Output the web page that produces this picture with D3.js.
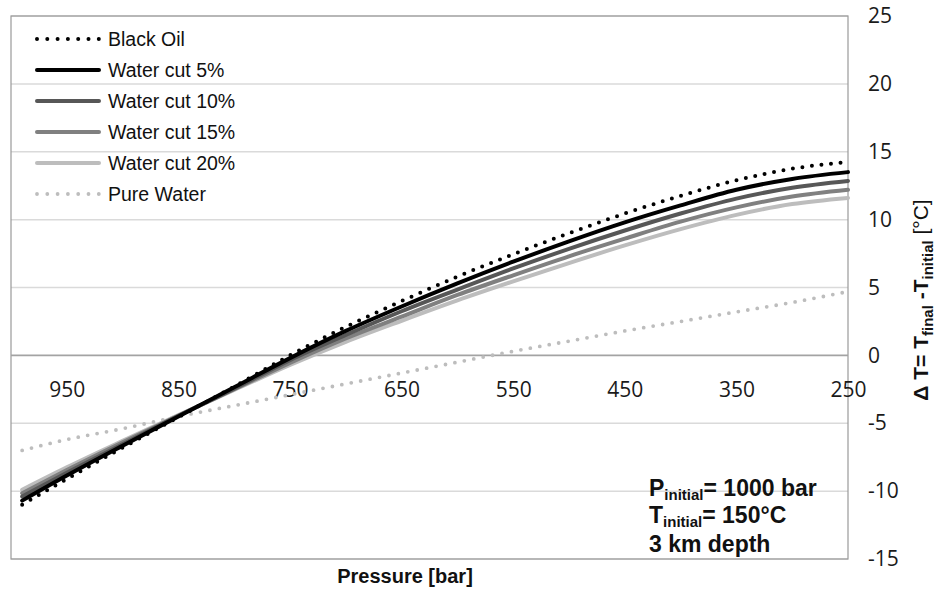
<!DOCTYPE html>
<html>
<head>
<meta charset="utf-8">
<style>
    body { margin: 0; background: #fff; }
    svg { display: block; font-family: "Liberation Sans", Arial, sans-serif; }
    .axis text { font-family: "Open Sans", sans-serif; font-size: 21px; fill: #1a1a1a; }
    .axis .domain { display: none; }
    .legend text { font-size: 19.5px; fill: #111; }
    .note { font-size: 23px; font-weight: bold; fill: #111; }
    .title { font-size: 20px; font-weight: bold; fill: #111; }
</style>
</head>
<body>
<svg width="939" height="590"></svg>

<script src="https://d3js.org/d3.v7.min.js"></script>
<script>
    // pressure [bar] along the x axis (reversed, high to low)
    let pressure = [990, 950, 900, 850, 800, 750, 700, 650, 600, 550, 500, 450, 400, 350, 300, 250];

    // delta T [°C] for each fluid
    let blackOil = [-11.0, -9.1, -6.8, -4.55, -2.3, 0.0, 2.1, 4.0, 5.8, 7.45, 9.0, 10.45, 11.75, 12.9, 13.75, 14.25];
    let wc5 = [-10.7, -8.85, -6.65, -4.5, -2.35, -0.2, 1.8, 3.6, 5.3, 6.9, 8.4, 9.8, 11.05, 12.2, 13.0, 13.5];
    let wc10 = [-10.4, -8.65, -6.55, -4.45, -2.45, -0.35, 1.5, 3.25, 4.85, 6.4, 7.85, 9.2, 10.45, 11.55, 12.35, 12.85];
    let wc15 = [-10.15, -8.45, -6.4, -4.45, -2.5, -0.55, 1.25, 2.85, 4.45, 5.9, 7.3, 8.6, 9.85, 10.9, 11.7, 12.2];
    let wc20 = [-9.9, -8.25, -6.3, -4.4, -2.55, -0.7, 1.0, 2.55, 4.05, 5.45, 6.8, 8.1, 9.3, 10.35, 11.15, 11.6];
    let pureWater = [-7.0, -6.2, -5.4, -4.5, -3.7, -2.9, -2.1, -1.3, -0.5, 0.3, 1.05, 1.8, 2.5, 3.2, 3.9, 4.7];

    let seriesNames = ["Black Oil", "Water cut 5%", "Water cut 10%", "Water cut 15%", "Water cut 20%", "Pure Water"];
    let xTicks = [950, 850, 750, 650, 550, 450, 350, 250];
    let yTicks = [-15, -10, -5, 0, 5, 10, 15, 20, 25];

    let svg = d3.select("svg");

    let plotL = 11, plotR = 848, plotT = 16, plotB = 559;

    let x = d3.scaleLinear().domain([1000, 250]).range([plotL, plotR]);
    let y = d3.scaleLinear().domain([-15, 25]).range([plotB, plotT]);

    // gridlines
    svg.append("g")
        .selectAll("line")
        .data(yTicks.filter(d => d != 0))
        .join("line")
        .attr("x1", plotL)
        .attr("x2", plotR)
        .attr("y1", d => y(d))
        .attr("y2", d => y(d))
        .style("stroke", "#dadada")
        .style("stroke-width", 1.5)

    // plot frame
    svg.append("rect")
        .attr("x", plotL)
        .attr("y", plotT)
        .attr("width", plotR - plotL)
        .attr("height", plotB - plotT)
        .style("fill", "none")
        .style("stroke", "#9a9a9a")
        .style("stroke-width", 1.2)

    // zero line acts as the x axis
    svg.append("line")
        .attr("x1", plotL)
        .attr("x2", plotR)
        .attr("y1", y(0))
        .attr("y2", y(0))
        .style("stroke", "#a3a3a3")
        .style("stroke-width", 1.8)

    svg.append("g")
        .attr("class", "axis")
        .attr("transform", "translate(0," + y(0) + ")")
        .call(d3.axisBottom(x).tickValues(xTicks).tickSize(0).tickPadding(27))

    // plain hyphen for negatives, as in the original
    svg.append("g")
        .attr("class", "axis")
        .attr("transform", "translate(868,0)")
        .call(d3.axisRight(y).tickValues(yTicks).tickSize(0).tickPadding(0).tickFormat(d => String(d)))

    // series
    let series = [
        { name: seriesNames[0], values: blackOil, color: "#000000", dash: "0 9.6", width: 4 },
        { name: seriesNames[1], values: wc5, color: "#000000", dash: null, width: 4 },
        { name: seriesNames[2], values: wc10, color: "#575757", dash: null, width: 4 },
        { name: seriesNames[3], values: wc15, color: "#808080", dash: null, width: 4 },
        { name: seriesNames[4], values: wc20, color: "#bdbdbd", dash: null, width: 4 },
        { name: seriesNames[5], values: pureWater, color: "#bdbdbd", dash: "0 9.6", width: 3.8 }
    ];

    let line = d3.line()
        .x((d, i) => x(pressure[i]))
        .y(d => y(d))
        .curve(d3.curveMonotoneX)

    let drawOrder = [5, 4, 3, 2, 1, 0];

    svg.append("g")
        .selectAll("path")
        .data(drawOrder.map(i => series[i]))
        .join("path")
        .attr("d", d => line(d.values))
        .style("fill", "none")
        .style("stroke", d => d.color)
        .style("stroke-width", d => d.width)
        .style("stroke-linecap", "round")
        .style("stroke-dasharray", d => d.dash)

    // legend
    let legend = svg.append("g")
        .attr("class", "legend")
        .selectAll("g")
        .data(series)
        .join("g")
        .attr("transform", (d, i) => "translate(0," + (39 + i * 31) + ")")

    legend.append("line")
        .attr("x1", 37)
        .attr("x2", 99)
        .style("stroke", d => d.color)
        .style("stroke-width", d => d.width)
        .style("stroke-linecap", "round")
        .style("stroke-dasharray", d => d.dash ? "0 10.3" : null)

    legend.append("text")
        .attr("x", 108)
        .attr("y", 7)
        .text(d => d.name)

    // note in the lower right
    let note = svg.append("g").attr("class", "note");

    let p = note.append("text").attr("x", 649).attr("y", 496);
    p.append("tspan").text("P");
    p.append("tspan").attr("dy", 4).style("font-size", "15px").text("initial");
    p.append("tspan").attr("dy", -4).text("= 1000 bar");

    let t = note.append("text").attr("x", 649).attr("y", 523);
    t.append("tspan").text("T");
    t.append("tspan").attr("dy", 4).style("font-size", "15px").text("initial");
    t.append("tspan").attr("dy", -4).text("= 150°C");

    note.append("text").attr("x", 649).attr("y", 552).text("3 km depth");

    // axis titles
    svg.append("text")
        .attr("class", "title")
        .attr("x", 405)
        .attr("y", 583)
        .attr("text-anchor", "middle")
        .text("Pressure [bar]")

    let yt = svg.append("text")
        .attr("class", "title")
        .attr("transform", "translate(928,300) rotate(-90)")
        .attr("text-anchor", "middle")
        .style("font-size", "21px")
    yt.append("tspan").text("Δ T= T");
    yt.append("tspan").attr("dy", 5).style("font-size", "15px").text("final");
    yt.append("tspan").attr("dy", -5).text(" -T");
    yt.append("tspan").attr("dy", 5).style("font-size", "15px").text("initial");
    yt.append("tspan").attr("dy", -5).style("font-weight", "normal").text(" [°C]");
</script>
</body>
</html>
